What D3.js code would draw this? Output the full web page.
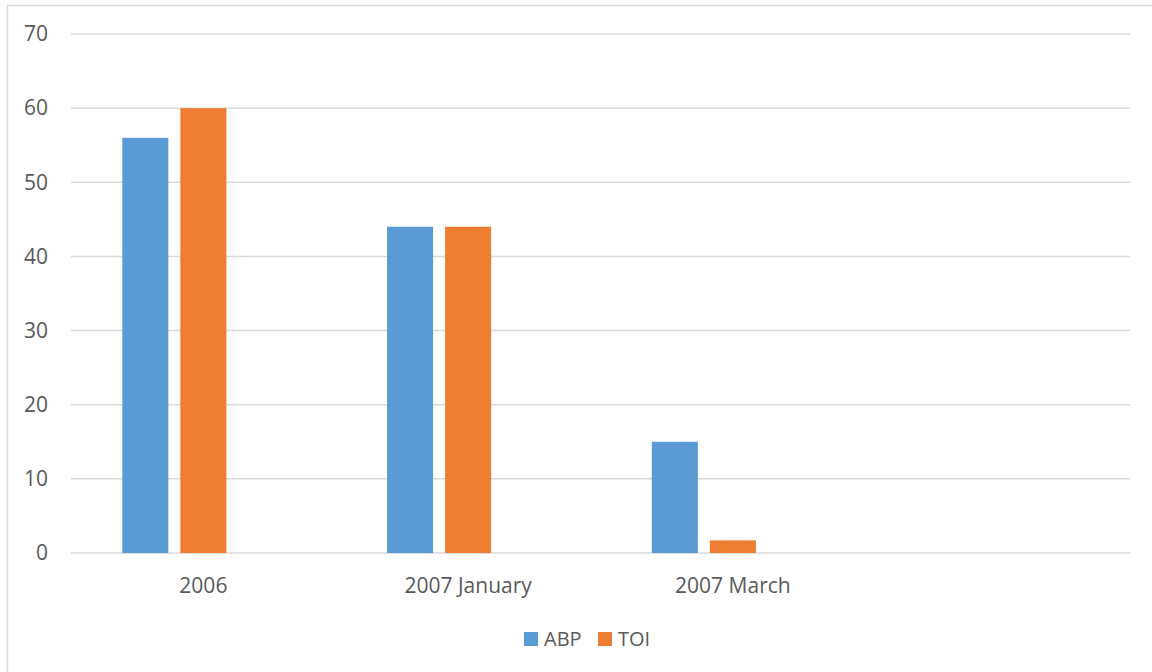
<!DOCTYPE html>
<html>
<head>
<meta charset="utf-8">
<script src="https://cdn.jsdelivr.net/npm/d3@7"></script>
<style>
  html, body { margin: 0; padding: 0; background: #fff; }
  svg { display: block; }
  text { font-family: "Open Sans", "Liberation Sans", sans-serif; fill: #595959; }
</style>
</head>
<body>
<script>
const categories = ["2006", "2007 January", "2007 March", ""];
const seriesNames = ["ABP", "TOI"];
const abpValues = [56, 44, 15, null];
const toiValues = [60, 44, 1.7, null];
const yTicks = [0, 10, 20, 30, 40, 50, 60, 70];
const seriesColors = ["#5b9bd5", "#ed7d31"];

const W = 1152, H = 672;
const svg = d3.select("body").append("svg").attr("width", W).attr("height", H);

// chart border
svg.append("rect").attr("x", 7.5).attr("y", 5.5).attr("width", W + 20).attr("height", H + 20)
  .attr("fill", "none").attr("stroke", "#d9d9d9").attr("stroke-width", 1.5);

const plot = { left: 71, right: 1130, top: 34, bottom: 553 };

const y = d3.scaleLinear().domain([0, 70]).range([plot.bottom, plot.top]);
const x0 = d3.scaleBand().domain(categories).range([plot.left, plot.right])
  .paddingInner(0.3875).paddingOuter(0.3875 / 2);
// three slots per group (third slot is an empty series, as in the source)
const x1 = d3.scaleBand().domain([...seriesNames, "_empty"]).range([0, x0.bandwidth()])
  .paddingInner(12 / 58).paddingOuter(0);
const color = d3.scaleOrdinal().domain(seriesNames).range(seriesColors);

// gridlines
svg.append("g").selectAll("line").data(yTicks).join("line")
  .attr("x1", plot.left).attr("x2", plot.right)
  .attr("y1", d => y(d)).attr("y2", d => y(d))
  .attr("stroke", "#d9d9d9").attr("stroke-width", 1.5);

// y axis labels
const yAxis = d3.axisLeft(y).tickValues(yTicks).tickSize(0).tickPadding(0);
const yg = svg.append("g").attr("transform", `translate(${plot.left - 23},0)`).call(yAxis);
yg.select(".domain").remove();
yg.selectAll("text").style("font-size", "21px").style("fill", "#595959")
  .style("font-family", '"Open Sans", sans-serif');

// x axis labels
const xAxis = d3.axisBottom(x0).tickSize(0).tickPadding(0);
const xg = svg.append("g").attr("transform", `translate(0,${plot.bottom + 25})`).call(xAxis);
xg.select(".domain").remove();
xg.selectAll("text").style("font-size", "21px").style("fill", "#595959")
  .style("font-family", '"Open Sans", sans-serif');

// bars
const seriesData = [abpValues, toiValues];
const groups = svg.append("g").selectAll("g").data(seriesNames).join("g")
  .attr("fill", d => color(d));
groups.each(function(name, si) {
  const vals = seriesData[si];
  d3.select(this).selectAll("rect")
    .data(categories.map((c, i) => ({ c, v: vals[i] })).filter(d => d.v != null))
    .join("rect")
    .attr("x", d => x0(d.c) + x1(name))
    .attr("width", x1.bandwidth())
    .attr("y", d => y(d.v))
    .attr("height", d => y(0) - y(d.v));
});

// legend
const legendItems = [
  { name: seriesNames[0], sx: 524, tx: 544 },
  { name: seriesNames[1], sx: 598, tx: 618 }
];
const lg = svg.append("g");
legendItems.forEach(it => {
  lg.append("rect").attr("x", it.sx).attr("y", 632).attr("width", 14).attr("height", 14)
    .attr("fill", color(it.name));
  lg.append("text").attr("x", it.tx).attr("y", 646).text(it.name)
    .style("font-size", "20px");
});
</script>
</body>
</html>
